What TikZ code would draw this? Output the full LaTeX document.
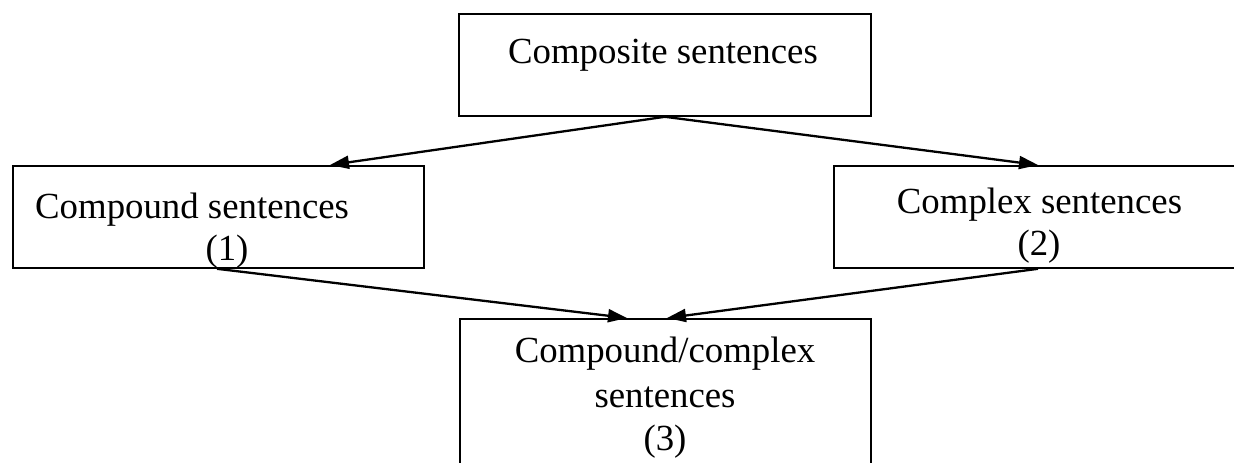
\documentclass[tikz,border=0pt]{standalone}
\usepackage{fontspec}
\setmainfont{Liberation Serif}
\usetikzlibrary{arrows.meta,calc}
\begin{document}
\begin{tikzpicture}[x=1pt,y=-1pt,
  box/.style={draw,line width=1.8pt,rectangle,inner sep=0pt,anchor=north west},
  lbl/.style={inner sep=0pt,anchor=base,font=\fontsize{36.8}{42}\selectfont},
  arr/.style={line width=2.3pt,-{Triangle[length=19pt,width=13pt]}}]
\useasboundingbox (0,0) rectangle (1234,463);
\node[box,minimum width=412pt,minimum height=102pt] (top) at (458,13) {};
\node[box,minimum width=411pt,minimum height=102pt] (left) at (12,165) {};
\node[box,minimum width=411pt,minimum height=102pt] (right) at (833,165) {};
\node[box,minimum width=411pt,minimum height=160pt] (bot) at (459,318) {};
\node[lbl] (ttop) at (663,63) {Composite sentences};
\node[lbl,anchor=base west] (tleft) at (35,218) {Compound sentences};
\node[lbl] (tleftn) at (227,260) {(1)};
\node[lbl] (tright) at (1039.5,213) {Complex sentences};
\node[lbl] (trightn) at (1039,255) {(2)};
\node[lbl] (tbot1) at (665,362) {Compound/complex};
\node[lbl] (tbot2) at (665,407) {sentences};
\node[lbl] (tbot3) at (665,450) {(3)};
\coordinate (ltip) at ($(left.north west)+(318,0)$);
\coordinate (rtip) at ($(right.north west)+(205,0)$);
\coordinate (lout) at ($(left.south west)+(205,0)$);
\coordinate (rout) at ($(right.south west)+(205,0)$);
\coordinate (b1) at ($(bot.north west)+(168,0)$);
\coordinate (b2) at ($(bot.north west)+(208,0)$);
\draw[arr] (top.south) -- (ltip);
\draw[arr] (top.south) -- (rtip);
\draw[arr] (lout) -- (b1);
\draw[arr] (rout) -- (b2);
\end{tikzpicture}
\end{document}
